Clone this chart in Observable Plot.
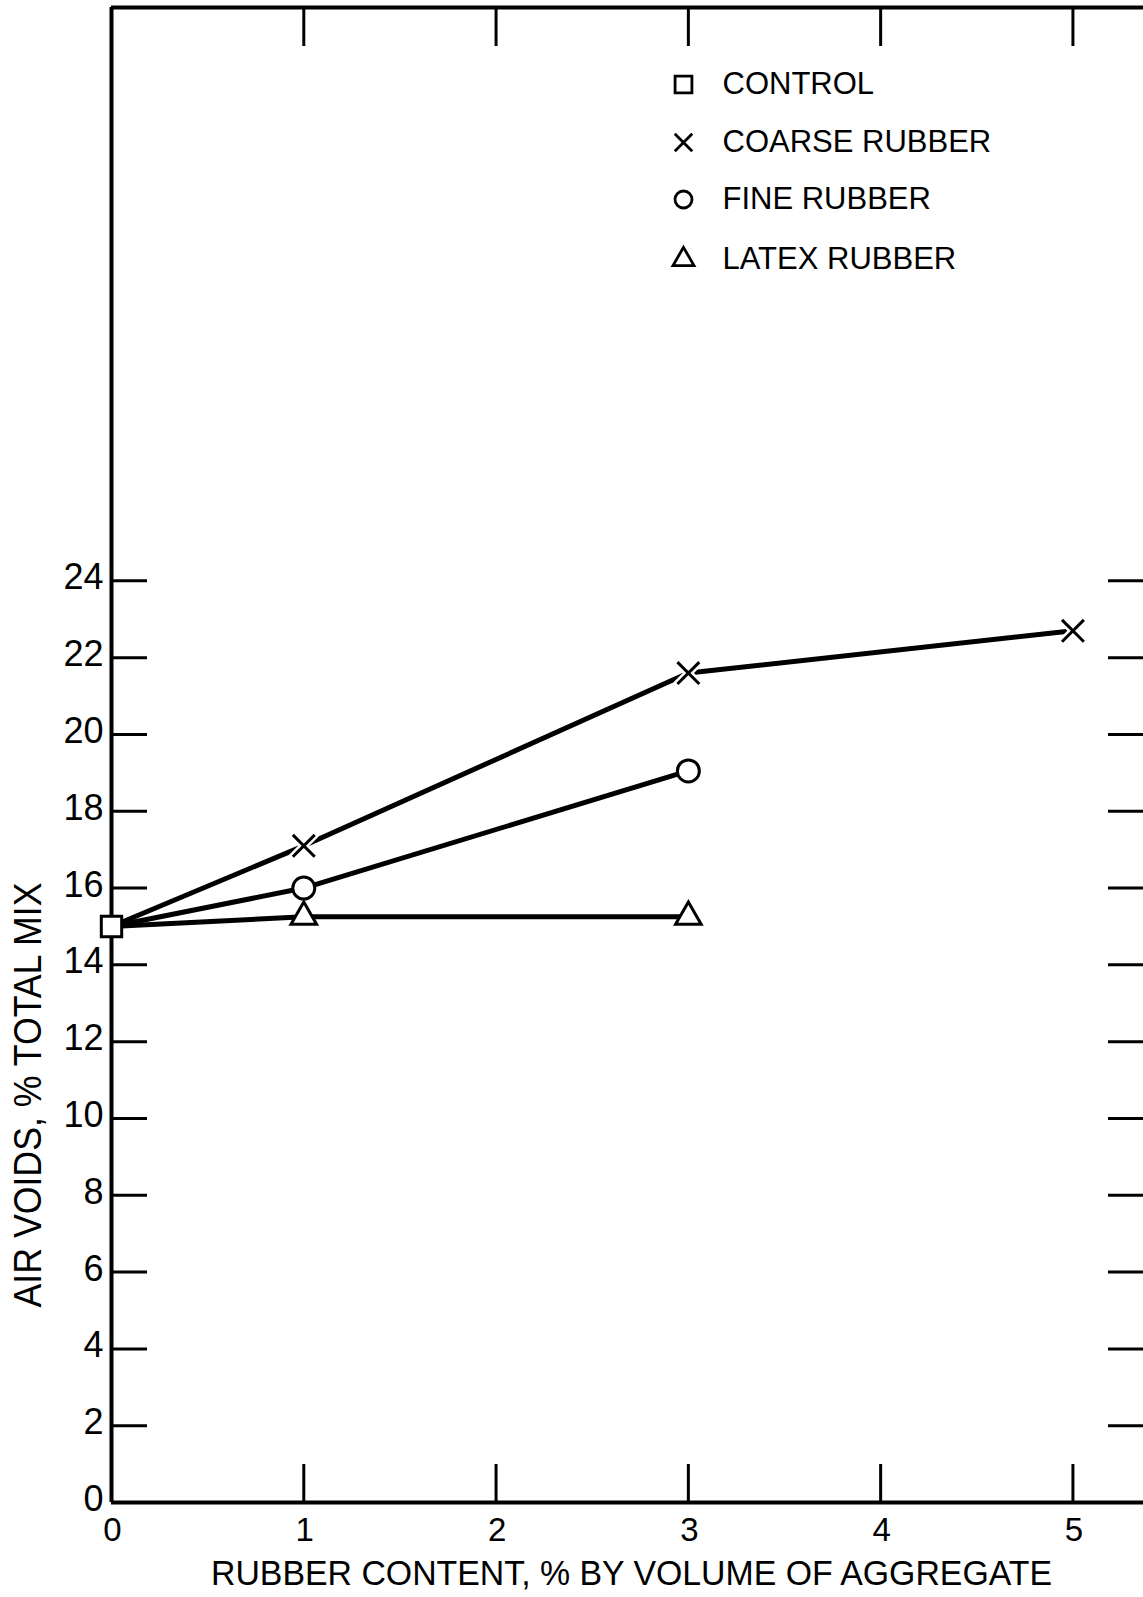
<!DOCTYPE html>
<html>
<head>
<meta charset="utf-8">
<script src="https://cdn.jsdelivr.net/npm/d3@7"></script>
<script src="https://cdn.jsdelivr.net/npm/@observablehq/plot@0.6"></script>
<style>
  html, body { margin: 0; padding: 0; background: #fff; }
  #chart svg { display: block; }
</style>
</head>
<body>
<div id="chart"></div>
<script>
// ---- data ----
const controlX = [0];
const controlVoids = [15.0];
const coarseX = [1, 3, 5];
const coarseVoids = [17.1, 21.6, 22.7];
const fineX = [1, 3];
const fineVoids = [16.0, 19.05];
const latexX = [1, 3];
const latexVoids = [15.25, 15.25];
const seriesNames = ["CONTROL", "COARSE RUBBER", "FINE RUBBER", "LATEX RUBBER"];
const seriesSymbols = ["square", "times", "circle", "triangle"];
const xTicks = [0, 1, 2, 3, 4, 5];
const xInnerTicks = [1, 2, 3, 4, 5];
const yTicks = [0, 2, 4, 6, 8, 10, 12, 14, 16, 18, 20, 22, 24];
const yInnerTicks = [2, 4, 6, 8, 10, 12, 14, 16, 18, 20, 22, 24];
const xTitle = "RUBBER CONTENT, % BY VOLUME OF AGGREGATE";
const yTitle = "AIR VOIDS, % TOTAL MIX";
const xDomain = [0, 5.367];
const yDomain = [0, 38.93];

// ---- build tables ----
const control = controlX.map((x, i) => ({x, y: controlVoids[i], s: "CONTROL"}));
const mk = (xs, ys, s) => xs.map((x, i) => ({x, y: ys[i], s}));
const coarse = mk(coarseX, coarseVoids, "COARSE RUBBER");
const fine = mk(fineX, fineVoids, "FINE RUBBER");
const latex = mk(latexX, latexVoids, "LATEX RUBBER");
const lines = [
  ...[control[0], ...coarse].map(d => ({...d, g: "COARSE RUBBER"})),
  ...[control[0], ...fine].map(d => ({...d, g: "FINE RUBBER"})),
  ...[control[0], ...latex].map(d => ({...d, g: "LATEX RUBBER"}))
];
const legend = seriesNames.map((name, i) => ({name, symbol: seriesSymbols[i]}));
const legendRowsDy = [77, 135, 192, 252];
const legendR = {square: 9.5, times: 8, circle: 8.5, triangle: 7.8};

const font = "'Liberation Sans', Arial, Helvetica, sans-serif";

const legendMarks = legend.flatMap((d, i) => [
  Plot.dot([d], {frameAnchor: "top-left", dx: 572, dy: legendRowsDy[i], symbol: "symbol",
    r: legendR[d.symbol], fill: "white", stroke: "black", strokeWidth: 2.8}),
  Plot.text([d], {frameAnchor: "top-left", dx: 611, dy: legendRowsDy[i], text: "name",
    textAnchor: "start", lineAnchor: "middle", fontSize: 31, fill: "black", className: "legend-text"})
]);

const chart = Plot.plot({
  width: 1143,
  height: 1597,
  marginLeft: 111,
  marginRight: 0,
  marginTop: 7,
  marginBottom: 95,
  style: {fontFamily: font, background: "white", color: "black"},
  x: {domain: xDomain, axis: null},
  y: {domain: yDomain, axis: null},
  symbol: {domain: seriesNames, range: seriesSymbols},
  marks: [
    // frame (no right side visible in reference)
    Plot.ruleX([0], {stroke: "black", strokeWidth: 4}),
    Plot.ruleY([0], {stroke: "black", strokeWidth: 4}),
    Plot.ruleY([yDomain[1]], {stroke: "black", strokeWidth: 4}),
    // inward ticks on all sides
    Plot.axisY(yInnerTicks, {anchor: "left", tickSize: 36, dx: 36, fill: "none", stroke: "black", strokeWidth: 3, label: null}),
    Plot.axisY(yInnerTicks, {anchor: "right", tickSize: 36, dx: -36, fill: "none", stroke: "black", strokeWidth: 3, label: null}),
    Plot.axisX(xInnerTicks, {anchor: "top", tickSize: 38, dy: 38, fill: "none", stroke: "black", strokeWidth: 3, label: null}),
    Plot.axisX(xInnerTicks, {anchor: "bottom", tickSize: 38, dy: -38, fill: "none", stroke: "black", strokeWidth: 3, label: null}),
    // tick labels
    Plot.axisY(yTicks, {anchor: "left", tickSize: 0, tickPadding: 8, dy: -3, fontSize: 36, fill: "black", label: null, tickFormat: d3.format("d")}),
    Plot.axisX(xTicks, {anchor: "bottom", tickSize: 0, tickPadding: 15, dx: 1, fontSize: 33, fill: "black", label: null, tickFormat: d3.format("d")}),
    // axis titles
    Plot.text([xTitle], {frameAnchor: "bottom", dx: 4, dy: 71, fontSize: 35, textAnchor: "middle", lineAnchor: "middle", fill: "black", className: "x-title"}),
    Plot.text([yTitle], {frameAnchor: "left", rotate: -90, dx: -83, dy: 340, fontSize: 38, textAnchor: "middle", lineAnchor: "middle", fill: "black", className: "y-title"}),
    // data lines
    Plot.line(lines, {x: "x", y: "y", z: "g", stroke: "black", strokeWidth: 5}),
    // halo for the x markers
    Plot.dot(coarse, {x: "x", y: "y", symbol: "s", r: 11, stroke: "white", strokeWidth: 8, fill: "white"}),
    // markers
    Plot.dot(latex, {x: "x", y: "y", symbol: "s", r: 9.5, fill: "white", stroke: "black", strokeWidth: 3}),
    Plot.dot(fine, {x: "x", y: "y", symbol: "s", r: 11, fill: "white", stroke: "black", strokeWidth: 3}),
    Plot.dot(coarse, {x: "x", y: "y", symbol: "s", r: 10, fill: "white", stroke: "black", strokeWidth: 3}),
    Plot.dot(control, {x: "x", y: "y", symbol: "s", r: 11.5, fill: "white", stroke: "black", strokeWidth: 3}),
    ...legendMarks
  ]
});
// condense the titles to the widths seen in the reference
d3.select(chart).selectAll(".x-title text").attr("textLength", 841).attr("lengthAdjust", "spacingAndGlyphs");
d3.select(chart).selectAll(".y-title text").attr("textLength", 425).attr("lengthAdjust", "spacingAndGlyphs");
document.getElementById("chart").appendChild(chart);
</script>
</body>
</html>
